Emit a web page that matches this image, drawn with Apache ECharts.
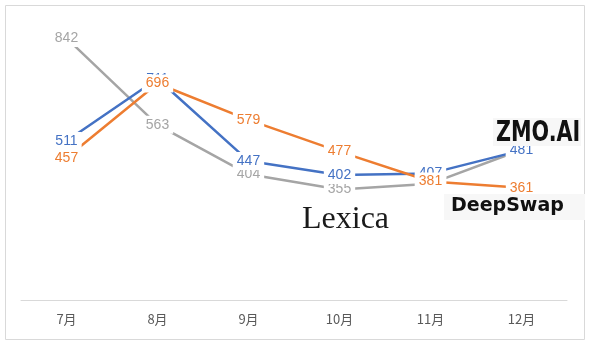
<!DOCTYPE html>
<html>
<head>
<meta charset="utf-8">
<script src="https://cdn.jsdelivr.net/npm/echarts@6/dist/echarts.min.js"></script>
<style>
  html, body { margin: 0; padding: 0; background: #fff; }
  #main { width: 590px; height: 346px; }
</style>
</head>
<body>
<div id="main"></div>
<script>
const months = ['7月', '8月', '9月', '10月', '11月', '12月']
const zmoValues = [511, 711, 447, 402, 407, 481]
const deepswapValues = [457, 696, 579, 477, 381, 361]
const lexicaValues = [842, 563, 404, 355, 374, 483]

function makeSeries(name, color, data) {
  return {
    name: name,
    type: 'line',
    data: data,
    symbol: 'circle',
    symbolSize: 2,
    showSymbol: true,
    itemStyle: { color: color },
    lineStyle: { color: color, width: 2.5 },
    label: {
      show: true,
      position: 'inside',
      color: color,
      fontSize: 14,
      fontFamily: 'Liberation Sans, Arial, sans-serif',
      backgroundColor: '#fff',
      padding: [2, 4]
    },
    labelLayout: { hideOverlap: false },
    emphasis: { disabled: true },
    animation: false
  }
}

const option = {
  animation: false,
  grid: { left: 21, right: 23, top: 20, bottom: 46 },
  xAxis: {
    type: 'category',
    data: months,
    axisLine: { lineStyle: { color: '#d9d9d9', width: 1 } },
    axisTick: { show: false },
    axisLabel: { color: '#595959', fontSize: 13, margin: 13, fontFamily: 'Noto Sans CJK SC, sans-serif' }
  },
  yAxis: {
    type: 'value',
    min: 0,
    max: 900,
    interval: 100,
    show: false,
    splitLine: { show: false }
  },
  series: [
    makeSeries('Lexica', '#A5A5A5', lexicaValues),
    makeSeries('ZMO.AI', '#4472C4', zmoValues),
    makeSeries('DeepSwap', '#ED7D31', deepswapValues)
  ],
  graphic: [
    {
      type: 'rect', silent: true,
      shape: { x: 5.5, y: 5.5, width: 579, height: 334 },
      style: { fill: 'none', stroke: '#d9d9d9', lineWidth: 1 }
    },
    {
      type: 'rect', silent: true, z: 10,
      shape: { x: 493, y: 118, width: 88, height: 28 },
      style: { fill: '#f7f7f7' }
    },
    {
      type: 'text', z: 11, x: 496, y: 148,
      scaleY: 1.25,
      style: { text: 'ZMO.AI', font: 'bold 23px "DejaVu Sans Condensed", "Liberation Sans Narrow", sans-serif', fill: '#111', verticalAlign: 'bottom' }
    },
    {
      type: 'rect', silent: true, z: 10,
      shape: { x: 444, y: 194, width: 141, height: 26 },
      style: { fill: '#f7f7f7' }
    },
    {
      type: 'text', z: 11, left: 451, top: 197,
      style: { text: 'DeepSwap', font: 'bold 19px "DejaVu Sans", sans-serif', fill: '#111' }
    },
    {
      type: 'text', z: 11, x: 302, y: 204,
      style: { text: 'Lexica', font: '32px "Liberation Serif", "DejaVu Serif", serif', fill: '#1a1a1a', verticalAlign: 'top' }
    }
  ]
}

const chart = echarts.init(document.getElementById('main'), null, { renderer: 'canvas' })
chart.setOption(option)
</script>
</body>
</html>
